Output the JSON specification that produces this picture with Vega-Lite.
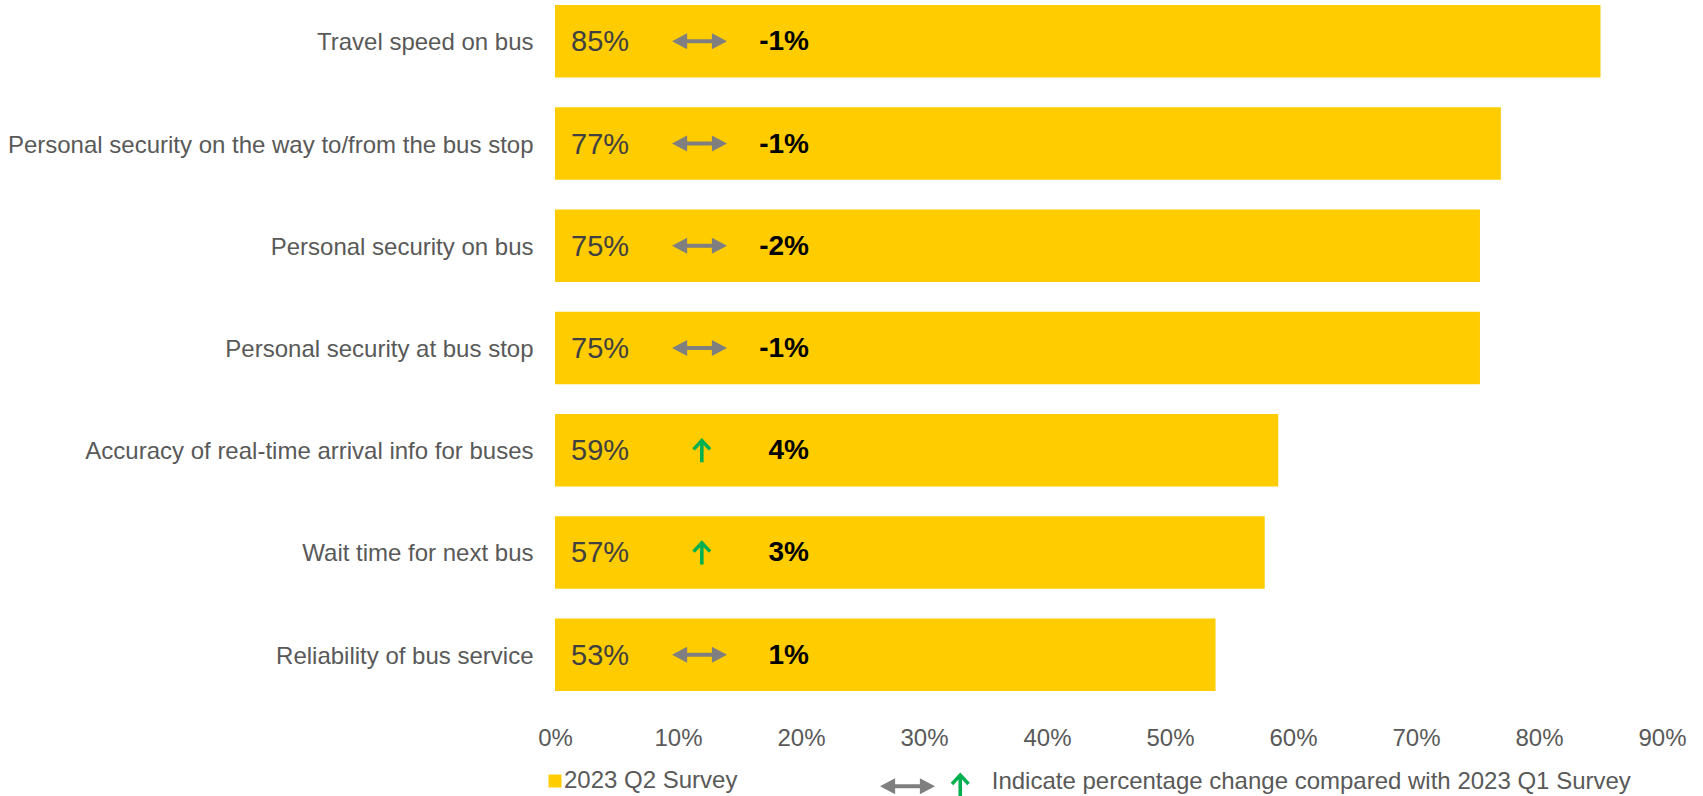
{
  "$schema": "https://vega.github.io/schema/vega-lite/v6.json",
  "width": 1107,
  "height": 696,
  "autosize": {"type": "none"},
  "padding": {"left": 555, "top": 0, "right": 41, "bottom": 100},
  "background": "white",
  "config": {
    "view": {"stroke": null},
    "font": "Liberation Sans",
    "legend": {"symbolOpacity": 1, "labelLimit": 900}
  },
  "data": {
    "values": [
      {"item": "Travel speed on bus", "value": 85.0, "label": "85%", "change": "-1%", "trend": "flat", "series": "2023 Q2 Survey"},
      {"item": "Personal security on the way to/from the bus stop", "value": 76.9, "label": "77%", "change": "-1%", "trend": "flat", "series": "2023 Q2 Survey"},
      {"item": "Personal security on bus", "value": 75.2, "label": "75%", "change": "-2%", "trend": "flat", "series": "2023 Q2 Survey"},
      {"item": "Personal security at bus stop", "value": 75.2, "label": "75%", "change": "-1%", "trend": "flat", "series": "2023 Q2 Survey"},
      {"item": "Accuracy of real-time arrival info for buses", "value": 58.8, "label": "59%", "change": "4%", "trend": "up", "series": "2023 Q2 Survey"},
      {"item": "Wait time for next bus", "value": 57.7, "label": "57%", "change": "3%", "trend": "up", "series": "2023 Q2 Survey"},
      {"item": "Reliability of bus service", "value": 53.7, "label": "53%", "change": "1%", "trend": "flat", "series": "2023 Q2 Survey"}
    ]
  },
  "encoding": {
    "y": {
      "field": "item",
      "type": "nominal",
      "sort": null,
      "scale": {"paddingInner": 0.291, "paddingOuter": 0.05},
      "axis": {
        "title": null,
        "domain": false,
        "ticks": false,
        "labelFontSize": 24,
        "labelColor": "#595959",
        "labelPadding": 22,
        "labelOffset": 2,
        "labelLimit": 700
      }
    }
  },
  "layer": [
    {
      "mark": {"type": "bar"},
      "encoding": {
        "x": {
          "field": "value",
          "type": "quantitative",
          "scale": {"domain": [0, 90], "nice": false},
          "axis": {
            "title": null,
            "values": [0, 10, 20, 30, 40, 50, 60, 70, 80, 90],
            "labelExpr": "datum.value + '%'",
            "domain": false,
            "ticks": false,
            "grid": false,
            "labelFontSize": 24,
            "labelColor": "#595959",
            "labelPadding": 30,
            "labelFlush": false
          }
        },
        "color": {
          "field": "series",
          "type": "nominal",
          "scale": {"range": ["#FFCC00"]},
          "legend": {
            "orient": "none",
            "legendX": -12,
            "legendY": 769,
            "title": null,
            "symbolType": "square",
            "symbolSize": 169,
            "symbolStrokeWidth": 0,
            "labelFontSize": 24,
            "labelColor": "#595959",
            "labelOffset": -3
          }
        }
      }
    },
    {
      "mark": {"type": "text", "align": "left", "baseline": "middle", "dx": 16, "dy": 1, "fontSize": 29, "color": "#404040"},
      "encoding": {
        "x": {"datum": 0},
        "text": {"field": "label"}
      }
    },
    {
      "mark": {"type": "text", "align": "right", "baseline": "middle", "dy": 1, "fontSize": 28, "fontWeight": "bold", "color": "#000000"},
      "encoding": {
        "x": {"datum": 20.65},
        "text": {"field": "change"}
      }
    },
    {
      "transform": [{"filter": "datum.trend === 'flat'"}],
      "mark": {"type": "point", "filled": true, "size": 3025, "opacity": 1, "strokeWidth": 0},
      "encoding": {
        "x": {"datum": 11.75},
        "shape": {"field": "trend", "type": "nominal"},
        "fill": {"field": "trend", "type": "nominal"}
      }
    },
    {
      "transform": [{"filter": "datum.trend === 'up'"}],
      "mark": {"type": "point", "filled": true, "size": 3025, "opacity": 1, "strokeWidth": 0},
      "encoding": {
        "x": {"datum": 12.2},
        "shape": {
          "field": "trend",
          "type": "nominal",
          "scale": {
            "domain": ["flat", "up"],
            "range": [
              "M-1,0L-0.45,-0.29L-0.45,-0.073L0.45,-0.073L0.45,-0.29L1,0L0.45,0.29L0.45,0.073L-0.45,0.073L-0.45,0.29Z",
              "M-0.183,0.436L-0.183,-0.187L-0.371,0.014L-0.465,-0.074L-0.118,-0.444L0.229,-0.074L0.135,0.014L-0.053,-0.187L-0.053,0.436Z"
            ]
          },
          "legend": {
            "orient": "none",
            "legendX": 325,
            "legendY": 757,
            "title": null,
            "direction": "horizontal",
            "symbolSize": 3025,
            "symbolStrokeWidth": 0,
            "labelFontSize": 24,
            "labelColor": "#595959",
            "labelOffset": 0.75,
            "columnPadding": -14.5,
            "labelExpr": "datum.value === 'up' ? 'Indicate percentage change compared with 2023 Q1 Survey' : ''",
            "encode": {"labels": {"update": {"dy": {"value": -3}}}}
          }
        },
        "fill": {
          "field": "trend",
          "type": "nominal",
          "scale": {"domain": ["flat", "up"], "range": ["#7F7F7F", "#00B050"]},
          "legend": {
            "orient": "none",
            "legendX": 325,
            "legendY": 757,
            "title": null,
            "direction": "horizontal",
            "symbolSize": 3025,
            "symbolStrokeWidth": 0,
            "labelFontSize": 24,
            "labelColor": "#595959",
            "labelOffset": 0.75,
            "columnPadding": -14.5,
            "labelExpr": "datum.value === 'up' ? 'Indicate percentage change compared with 2023 Q1 Survey' : ''",
            "encode": {"labels": {"update": {"dy": {"value": -3}}}}
          }
        }
      }
    }
  ]
}
